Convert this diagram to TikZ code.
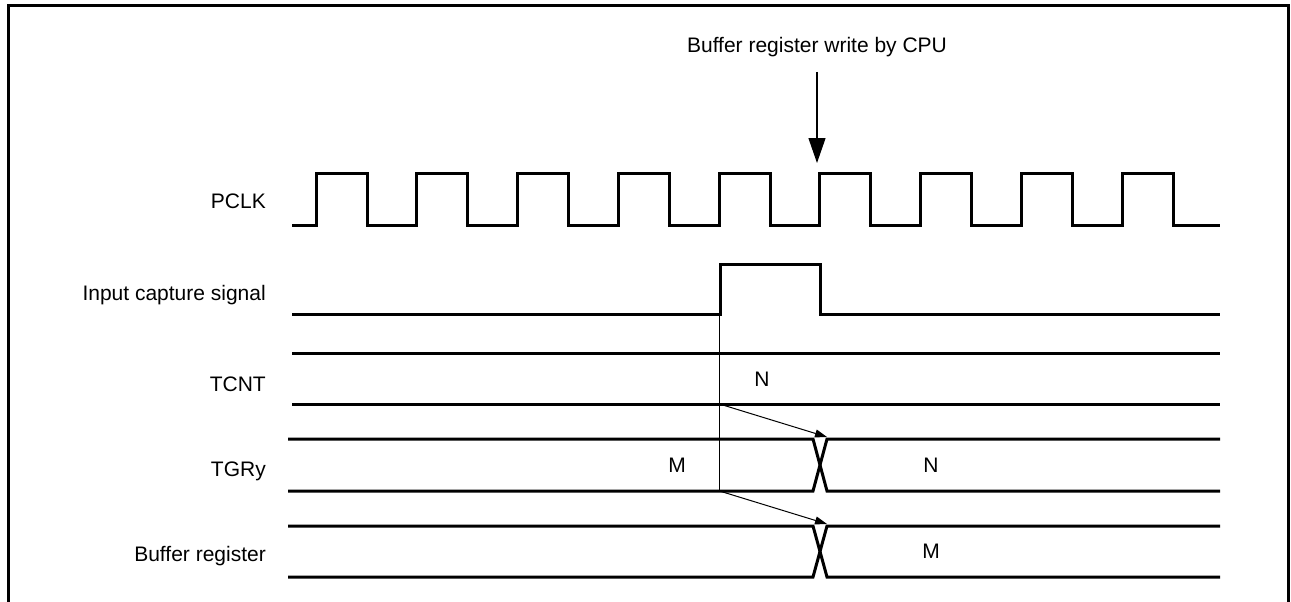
\documentclass[tikz,border=0pt]{standalone}
\usepackage{fontspec}
\setmainfont{Liberation Sans}
\usetikzlibrary{arrows.meta}
\begin{document}
\begin{tikzpicture}[x=1pt,y=-1pt,
  sig/.style={line width=3pt, line join=miter},
  frame/.style={line width=3pt},
  thinline/.style={line width=1pt},
  lbl/.style={font=\fontsize{21}{25}\selectfont, inner sep=0pt},
  smallarrow/.style={thinline, -{Triangle[length=12pt,width=8pt]}},
  bigarrow/.style={line width=1.2pt, -{Triangle[length=25pt,width=17pt]}}]
\useasboundingbox (0,0) rectangle (1291,602);
% frame
\draw[frame] (8,602) -- (8,6) -- (1288,6) -- (1288,602);
% labels
\node[lbl, anchor=base east] (lpclk) at (266,208) {PCLK};
\node[lbl, anchor=base east] (lics) at (266,300) {Input capture signal};
\node[lbl, anchor=base east] (ltcnt) at (266,391) {TCNT};
\node[lbl, anchor=base east] (ltgr) at (266,476) {TGRy};
\node[lbl, anchor=base east] (lbuf) at (266,561) {Buffer register};
% title
\node[lbl, anchor=base] (title) at (817,53) {Buffer register write by CPU};
\coordinate (cpuA) at (817,72);
\coordinate (cpuB) at (817,163);
\draw[bigarrow] (cpuA) -- (cpuB);
% PCLK
\draw[sig] (292,225)
  \foreach \k in {0,...,8}{ -- ({316+100.75*\k},225) -- ({316+100.75*\k},173)
     -- ({367+100.75*\k},173) -- ({367+100.75*\k},225)} -- (1220,225);
% input capture
\draw[sig] (292,314) -- (720,314) -- (720,264) -- (820,264) -- (820,314) -- (1220,314);
% TCNT
\draw[sig] (292,353) -- (1220,353);
\draw[sig] (292,404) -- (1220,404);
\node[lbl, anchor=base] (vtcnt) at (762,386) {N};
% TGRy
\draw[sig] (288,439) -- (813,439) -- (827,491) -- (1220,491);
\draw[sig] (288,491) -- (813,491) -- (827,439) -- (1220,439);
\node[lbl, anchor=base] (vtgrM) at (677,472) {M};
\node[lbl, anchor=base] (vtgrN) at (931,472) {N};
% Buffer
\draw[sig] (288,526) -- (813,526) -- (827,577) -- (1220,577);
\draw[sig] (288,577) -- (813,577) -- (827,526) -- (1220,526);
\node[lbl, anchor=base] (vbufM) at (931,558) {M};
% capture marker and transfers
\coordinate (capTop) at (719.5,314);
\coordinate (capT) at (719.5,404);
\coordinate (capG) at (719.5,491);
\coordinate (toG) at (827,437);
\coordinate (toB) at (827,524);
\draw[thinline] (capTop) -- (capG);
\draw[smallarrow] (capT) -- (toG);
\draw[smallarrow] (capG) -- (toB);
\end{tikzpicture}
\end{document}
